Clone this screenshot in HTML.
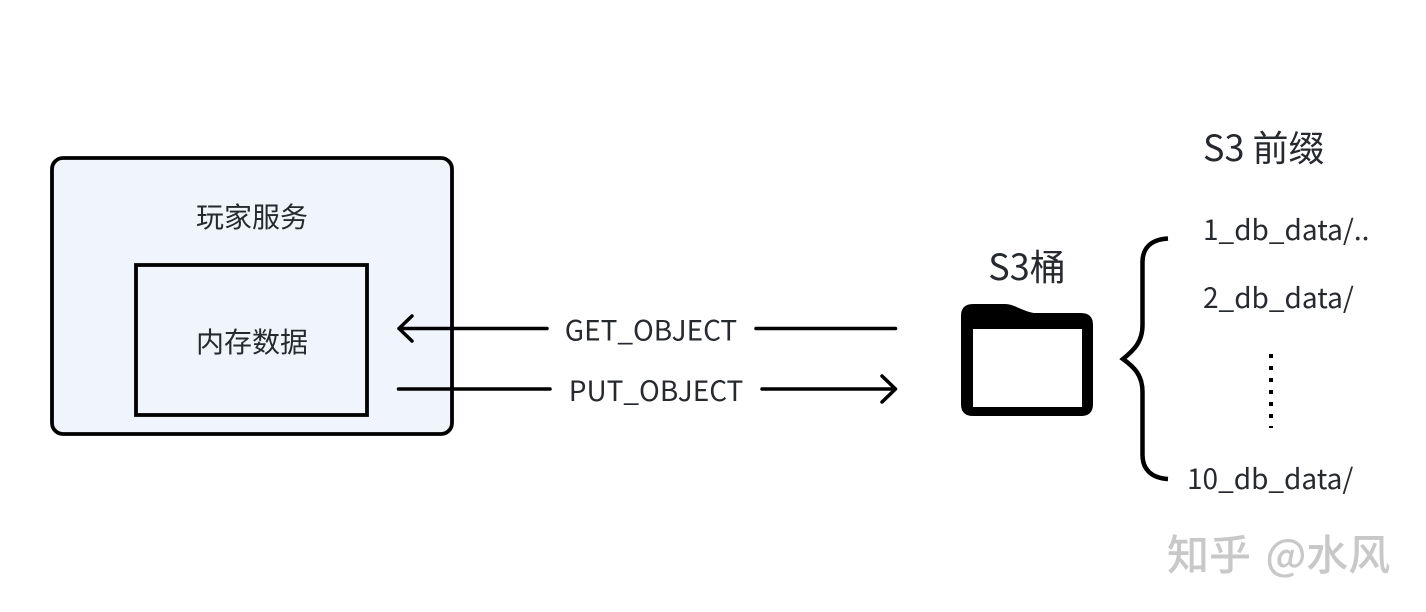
<!DOCTYPE html>
<html lang="zh">
<head>
<meta charset="utf-8">
<style>
html,body{margin:0;padding:0;background:#fff}
svg{display:block}
text{font-family:"Noto Sans CJK SC","Liberation Sans",sans-serif;fill:#26292e}
</style>
</head>
<body>
<svg width="1426" height="612" viewBox="0 0 1426 612" xmlns="http://www.w3.org/2000/svg">
<rect x="52" y="158" width="400" height="276" rx="11" fill="#f0f4fd" stroke="#000" stroke-width="3.800"/>
<rect x="136" y="265" width="231" height="150" fill="#f0f4fd" stroke="#000" stroke-width="3.800"/>
<text x="252" y="227" font-size="28" text-anchor="middle">玩家服务</text>
<text x="252" y="352" font-size="28" text-anchor="middle">内存数据</text>

<g fill="none" stroke="#000" stroke-width="3.500" stroke-linecap="round" stroke-linejoin="round">
<path d="M399 328.500H547M756 328.500H895.500M412 316L399 328.500L412 341"/>
<path d="M398.500 389H550M762 389H895.500M882 376L895.500 389L882 402"/>
</g>
<text x="651" y="340.500" font-size="28" text-anchor="middle">GET_OBJECT</text>
<text x="656" y="401" font-size="28" text-anchor="middle">PUT_OBJECT</text>

<text x="1027" y="280" font-size="36" text-anchor="middle">S3桶</text>
<path fill-rule="evenodd" d="M973 304H1005C1014 304 1022 311 1034 313H1081Q1093 313 1093 325V404Q1093 416 1081 416H973Q961 416 961 404V316Q961 304 973 304ZM973 329V407H1082V329Z" fill="#000"/>

<path d="M1168 238.500C1151 239.500 1142.500 248 1142.500 262V325C1142.500 342 1134 350 1123 359C1134 367 1142.500 375 1142.500 392V455C1142.500 469 1151 478 1168 479" fill="none" stroke="#000" stroke-width="4.500"/>

<text x="1203" y="161" font-size="36">S3 前缀</text>
<text x="1203" y="240" font-size="28">1_db_data/..</text>
<text x="1203" y="308" font-size="28">2_db_data/</text>
<text x="1187" y="489" font-size="28">10_db_data/</text>
<path d="M1271 354V428" stroke="#000" stroke-width="4" stroke-dasharray="4 8" fill="none"/>

<text x="1167" y="570" font-size="42" word-spacing="5" style="fill:#c8c8c8;font-weight:500">知乎 @水风</text>
</svg>
</body>
</html>
